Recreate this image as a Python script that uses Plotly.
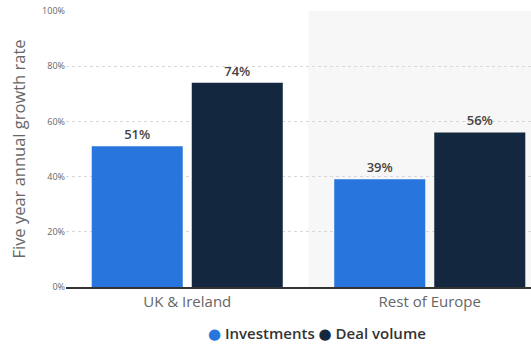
import plotly.graph_objects as go

regions = ["UK & Ireland", "Rest of Europe"]
investments = [51, 39]
deal_volume = [74, 56]
series_names = ["Investments", "Deal volume"]
y_ticks = [0, 20, 40, 60, 80, 100]
y_tick_labels = ["0%", "20%", "40%", "60%", "80%", "100%"]

blue = "#2876dd"
navy = "#13283f"
font_family = "Open Sans, Roboto, DejaVu Sans, sans-serif"

fig = go.Figure()

x_idx = list(range(len(regions)))

for name, vals, color in [(series_names[0], investments, blue), (series_names[1], deal_volume, navy)]:
    fig.add_trace(go.Bar(
        x=x_idx, y=vals, name=name, marker=dict(color=color, line=dict(width=0)),
        text=[f"{v}%" for v in vals], textposition="outside",
        textfont=dict(size=13, color="#444444", family=font_family, weight=600),
        cliponaxis=False, showlegend=False,
    ))

# alternate-category background band
fig.add_shape(type="rect", xref="x", yref="paper", x0=0.5, x1=1.5, y0=0, y1=1,
              fillcolor="#f7f7f7", line=dict(width=0), layer="below")

# compact legend with round markers
legend_text = (
    f"<span style='color:{blue}'>●</span> {series_names[0]} "
    f"<span style='color:{navy}'>●</span> {series_names[1]}"
)
fig.add_annotation(text=legend_text, xref="paper", yref="paper", x=0.54, y=-0.165,
                   xanchor="center", yanchor="middle", showarrow=False,
                   font=dict(size=15, color="#333333", family=font_family, weight=600))

fig.update_layout(
    width=531, height=345,
    margin=dict(l=66, r=0, t=11, b=58),
    paper_bgcolor="white", plot_bgcolor="white",
    barmode="group", bargap=0.175, bargroupgap=0.09,
    font=dict(family=font_family, color="#666666"),
    showlegend=False,
    xaxis=dict(range=[-0.5, 1.4175], tickvals=x_idx, ticktext=regions,
               tickfont=dict(size=15, color="#666666"), showgrid=False,
               showline=True, linecolor="#333333", linewidth=1.5,
               ticks="", zeroline=False, fixedrange=True),
    yaxis=dict(range=[0, 100], tickvals=y_ticks, ticktext=y_tick_labels,
               tickfont=dict(size=9, color="#666666"),
               showgrid=True, gridcolor="#d8d8d8", griddash="dot", gridwidth=1,
               zeroline=False, ticks="", ticklen=0,
               title=dict(text="Five year annual growth rate",
                          font=dict(size=16.5, color="#666666"), standoff=12)),
)

fig.write_html("out.html")
